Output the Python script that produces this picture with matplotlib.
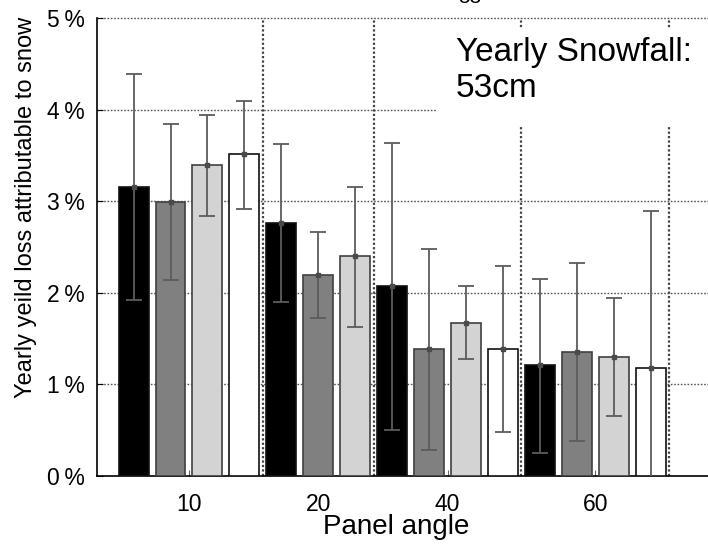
import numpy as np
import matplotlib
matplotlib.use("Agg")
import matplotlib.pyplot as plt
from matplotlib.patches import Rectangle

plt.rcParams['font.family'] = ['Liberation Sans', 'DejaVu Sans']

# данные (в процентах), серии: black, dark gray, light gray, white
angles = ['10', '20', '40', '60']
black_val = [3.155, 2.76, 2.076, 1.207]
black_hi = [4.39, 3.62, 3.64, 2.155]
black_lo = [1.92, 1.905, 0.50, 0.25]
gray_val = [2.99, 2.19, 1.384, 1.35]
gray_hi = [3.84, 2.66, 2.48, 2.33]
gray_lo = [2.145, 1.725, 0.28, 0.377]
light_val = [3.39, 2.40, 1.674, 1.30]
light_hi = [3.94, 3.16, 2.07, 1.945]
light_lo = [2.84, 1.63, 1.275, 0.655]
white_val = [3.51, np.nan, 1.388, 1.18]
white_hi = [4.09, np.nan, 2.29, 2.89]
white_lo = [2.92, np.nan, 0.48, -0.5]

series = [
    (black_val, black_hi, black_lo, '#000000', '#111111'),
    (gray_val, gray_hi, gray_lo, '#808080', '#404040'),
    (light_val, light_hi, light_lo, '#d3d3d3', '#404040'),
    (white_val, white_hi, white_lo, '#ffffff', '#111111'),
]

fig = plt.figure(figsize=(7.08, 5.45), dpi=100)
ax = fig.add_axes([97 / 708, 69 / 545, 611 / 708, 458 / 545])

# бары идут подряд, пропущенные значения не занимают место
pos = 0
centers = []
bounds = []
for g in range(len(angles)):
    start = pos
    for vals, hi, lo, fc, ec in series:
        v = vals[g]
        if np.isnan(v):
            continue
        ax.bar(pos, v, width=0.81, color=fc, edgecolor=ec, linewidth=1.2, zorder=3)
        ax.errorbar(pos, v, yerr=[[v - lo[g]], [hi[g] - v]], fmt='s', ms=3,
                    color='#4a4a4a', ecolor='#5c5c5c', elinewidth=1.3,
                    capsize=5.5, capthick=1.3, zorder=4)
        pos += 1
    centers.append((start + pos - 1) / 2)
    bounds.append(pos - 0.5)

ax.set_xlim(-0.99, 15.55)
ax.set_ylim(0, 5)

# сетка
for yv in [1, 2, 3, 4, 5]:
    ax.axhline(yv, color='#555555', lw=1.0, ls=(0, (1.2, 1.2)), zorder=1, clip_on=False)
for b in bounds:
    ax.axvline(b, color='#444444', lw=1.6, ls=(0, (1, 1)), zorder=2)

ax.set_yticks([0, 1, 2, 3, 4, 5])
ax.set_yticklabels(['%d\u2009%%' % v for v in range(6)])
ax.set_xticks(centers)
ax.set_xticklabels(angles)
ax.tick_params(axis='y', direction='in', length=4, labelsize=16.5, pad=9)
ax.tick_params(axis='x', direction='in', length=4, color='#666666', labelsize=16.5, pad=12)

for s in ['top', 'right']:
    ax.spines[s].set_visible(False)
ax.spines['left'].set_linewidth(1.2)
ax.spines['bottom'].set_linewidth(1.2)

ax.set_ylabel('Yearly yeild loss attributable to snow', fontsize=17, va='center')
ax.yaxis.set_label_coords(-0.116, 0.587)
ax.set_xlabel('Panel angle', fontsize=20)
ax.xaxis.set_label_coords((396 - 97) / 611, -0.082)

# белая подложка под надписью
ax.add_patch(Rectangle((436 / 708, 1 - 125 / 545), 272 / 708, 97 / 545,
                       transform=fig.transFigure, facecolor='white',
                       edgecolor='none', zorder=5, clip_on=False))
ax.text(456 / 708, 1 - 37 / 545, 'Yearly Snowfall:\n53cm', transform=fig.transFigure,
        fontsize=24, va='top', ha='left', linespacing=1.2, zorder=10)

# обрезанный текст сверху
fig.text(458 / 708, 1 - 3 / 545, '53', fontsize=15, va='baseline', ha='left')

plt.savefig('out.png', dpi=100)
